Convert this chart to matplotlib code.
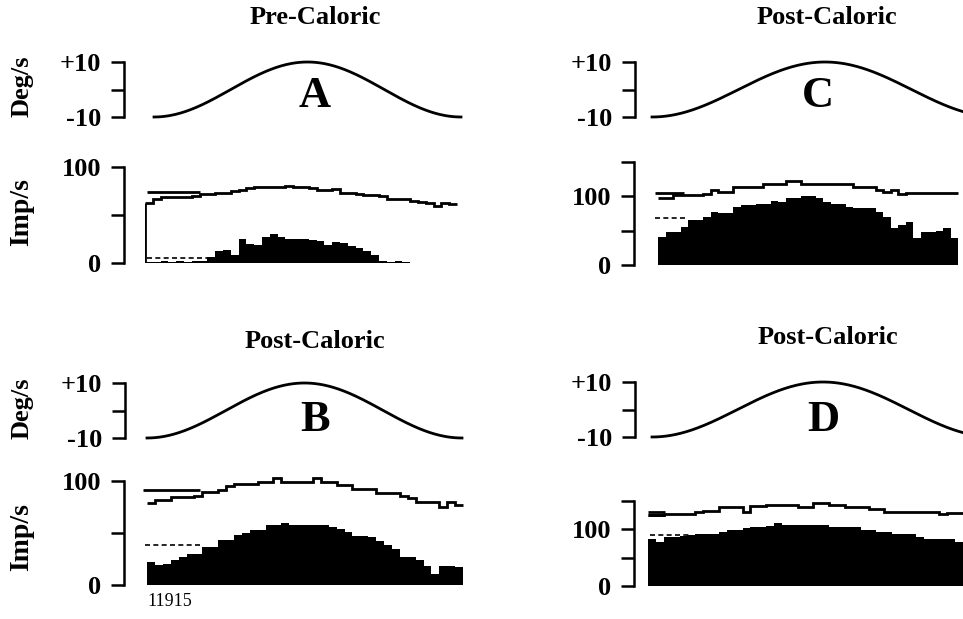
import numpy as np
import matplotlib
matplotlib.use("Agg")
import matplotlib.pyplot as plt

plt.rcParams['font.family'] = ['Liberation Serif', 'DejaVu Serif']
plt.rcParams['font.weight'] = 'bold'

# ---------------- data ----------------
titles = ["Pre-Caloric", "Post-Caloric", "Post-Caloric", "Post-Caloric"]
letters = ["A", "B", "C", "D"]
stim_amp = 10  # deg/s sinusoidal stimulus

# Histogram (Imp/s) per bin, 40 bins per cycle
hist_A = [1, 1, 2, 1, 2, 1, 2, 2, 6, 12, 14, 8, 25, 20, 19, 27, 30, 27, 25, 25,
          25, 24, 23, 19, 22, 21, 18, 16, 12, 8, 2, 1, 2, 1, 0, 0, 0, 0, 0, 0]
hist_B = [22, 19, 20, 24, 27, 30, 30, 37, 37, 43, 43, 48, 50, 53, 53, 58, 58, 60, 58, 58,
          58, 58, 58, 56, 54, 51, 47, 47, 46, 42, 38, 35, 27, 27, 24, 18, 11, 18, 18, 17]
hist_C = [41, 48, 48, 55, 65, 65, 70, 77, 75, 75, 84, 87, 87, 89, 89, 93, 92, 97, 97, 100,
          100, 97, 92, 89, 89, 84, 82, 82, 82, 77, 70, 53, 58, 63, 39, 48, 48, 50, 53, 39]
hist_D = [82, 78, 86, 86, 87, 89, 92, 92, 92, 95, 98, 98, 101, 104, 104, 106, 111, 107, 107, 107,
          107, 107, 107, 104, 103, 103, 103, 98, 98, 95, 95, 92, 92, 92, 86, 82, 82, 82, 82, 78]

# Upper trace (Imp/s) per bin
trace_A = [62, 67, 69, 69, 69, 69, 70, 72, 72, 73, 73, 75, 76, 78, 79, 79, 79, 79, 80, 79,
           79, 78, 76, 76, 77, 73, 73, 72, 71, 71, 70, 67, 67, 67, 65, 64, 62, 59, 62, 61]
trace_B = [79, 82, 82, 85, 85, 85, 86, 89, 89, 91, 95, 97, 97, 97, 99, 99, 103, 99, 99, 99,
           99, 103, 99, 99, 96, 96, 92, 92, 92, 88, 88, 88, 86, 84, 80, 80, 80, 75, 80, 77]
trace_C = [97, 97, 101, 101, 101, 101, 103, 109, 106, 106, 113, 113, 113, 113, 117, 117, 117, 122, 122, 117,
           117, 117, 117, 117, 117, 117, 113, 113, 113, 109, 106, 109, 103, 105, 105, 105, 105, 105, 105, 105]
trace_D = [125, 125, 127, 127, 127, 127, 130, 131, 131, 139, 139, 139, 130, 140, 140, 142, 142, 142, 142, 138,
           138, 145, 145, 142, 142, 139, 139, 139, 135, 135, 130, 129, 129, 129, 129, 129, 129, 126, 128, 128]

# Reference (pre-stimulus) rates: solid level, dashed level, and bin span
ref_solid = [74, 91, 105, 130]
ref_dashed = [5, 38, 68, 90]
ref_span_solid = [(0.2, 7.0), (-0.5, 6.7), (-0.4, 3.4), (0.0, 2.2)]
ref_span_dashed = [(0.2, 8.3), (-0.2, 6.7), (-0.4, 3.9), (0.3, 5.3)]

hists = [hist_A, hist_B, hist_C, hist_D]
traces = [trace_A, trace_B, trace_C, trace_D]

# ---------------- layout (pixel geometry) ----------------
W, H = 963, 619
fig = plt.figure(figsize=(W / 100, H / 100), dpi=100)
PT = 72 / 100  # points per pixel
LW = 2.0


def add_px_axes(x0, x1, y_top, y_bot):
    return fig.add_axes([x0 / W, 1 - y_bot / H, (x1 - x0) / W, (y_bot - y_top) / H])


def style_left(ax, spine_offset_px, lo, hi, ticks, labels):
    for s in ["top", "right", "bottom"]:
        ax.spines[s].set_visible(False)
    ax.spines["left"].set_position(("outward", spine_offset_px * PT))
    ax.spines["left"].set_bounds(lo, hi)
    ax.spines["left"].set_linewidth(1.8)
    ax.set_xticks([])
    ax.set_yticks(ticks)
    ax.set_yticklabels(labels, fontsize=19, fontweight="bold")
    ax.tick_params(axis="y", direction="out", length=9.5, width=1.8, pad=7)
    ax.patch.set_alpha(0)


# stimulus axes: (x_start, x_end, y_top(+10), y_bot(-10), spine_x)
stim_geo = [(154, 461, 62, 117, 124), (147, 462, 383, 438, 125),
            (652, 998, 62, 117, 635), (652, 994, 382, 437, 635)]
# histogram axes: (x_start, x_end, y_top, y_bot(0), spine_x, ymax)
hist_geo = [(145, 457, 167, 263, 124, 100), (147, 463, 481, 585, 124, 100),
            (658, 958, 161.5, 265, 634, 150), (648, 963, 500.5, 586, 634, 150)]
title_pos = [(315, 17), (315, 342), (827, 17), (828, 337)]
letter_pos = [(315, 96), (315, 420), (818, 96), (823, 420)]

for i in range(4):
    # ----- stimulus -----
    x0, x1, yt, yb, sx = stim_geo[i]
    ax = add_px_axes(x0, x1, yt, yb)
    t = np.linspace(0, 1, 300)
    ax.plot(t, -stim_amp * np.cos(2 * np.pi * t), color="black", lw=LW, clip_on=False)
    ax.set_xlim(0, 1)
    ax.set_ylim(-stim_amp, stim_amp)
    style_left(ax, x0 - sx, -stim_amp, stim_amp, [-stim_amp, 0, stim_amp], ["-10", "", "+10"])

    # ----- histogram -----
    x0, x1, yt, yb, sx, ymax = hist_geo[i]
    ax = add_px_axes(x0, x1, yt, yb)
    vals = hists[i]
    n = len(vals)
    edges = np.arange(n + 1)
    ax.bar(edges[:-1], vals, width=1.0, align="edge", color="black", linewidth=0)
    ax.stairs(traces[i], edges, baseline=None, color="black", lw=LW, clip_on=False)
    if i == 0:
        ax.vlines(0, 0, traces[i][0], color="black", lw=LW)
    a, b = ref_span_solid[i]
    ax.hlines(ref_solid[i], a, b, color="black", lw=LW, clip_on=False)
    if i == 3:
        ax.hlines(ref_solid[i] - 5, a, b, color="black", lw=LW)
    a, b = ref_span_dashed[i]
    ax.hlines(ref_dashed[i], a, b, color="black", lw=1.2, linestyles=(0, (3, 2)), clip_on=False)
    ax.set_xlim(0, n)
    ax.set_ylim(0, ymax)
    if ymax == 100:
        style_left(ax, x0 - sx, 0, 100, [0, 50, 100], ["0", "", "100"])
    else:
        style_left(ax, x0 - sx, 0, 150, [0, 50, 100, 150], ["0", "", "100", ""])

    # titles and letters
    tx, ty = title_pos[i]
    fig.text(tx / W, 1 - ty / H, titles[i], ha="center", va="center", fontsize=19, fontweight="bold")
    lx, ly = letter_pos[i]
    fig.text(lx / W, 1 - ly / H, letters[i], ha="center", va="center", fontsize=32, fontweight="bold")

# y-axis labels (left column only)
for y in (86, 408):
    fig.text(22 / W, 1 - y / H, "Deg/s", rotation=90, ha="center", va="center", fontsize=19, fontweight="bold")
for y in (212, 537):
    fig.text(22 / W, 1 - y / H, "Imp/s", rotation=90, ha="center", va="center", fontsize=20, fontweight="bold")

fig.text(147 / W, 1 - 601 / H, "11915", ha="left", va="center", fontsize=13, fontweight="normal")

fig.savefig("out.png", dpi=100)
